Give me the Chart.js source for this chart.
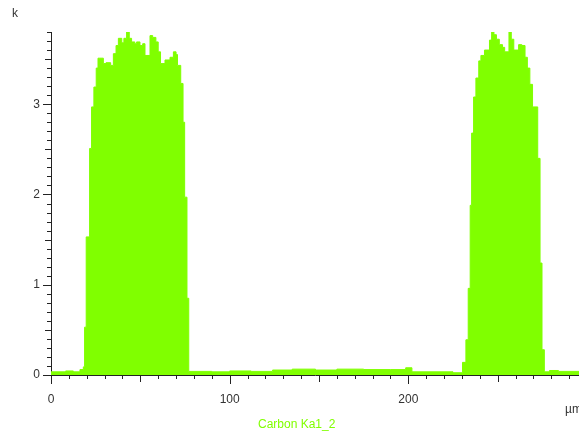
<!DOCTYPE html>
<html>
<head>
<meta charset="utf-8">
<script src="https://cdn.jsdelivr.net/npm/chart.js@4.4.1/dist/chart.umd.min.js"></script>
<style>
  html, body { margin: 0; padding: 0; background: #fff; }
  #wrap { position: relative; width: 579px; height: 437px; overflow: hidden; }
</style>
</head>
<body>
<div id="wrap"><canvas id="profile" width="579" height="437"></canvas></div>
<script>
// Line scan: Carbon Ka1_2 counts (k) vs distance (µm), one value per step start
const stepStart = [
  0, 8.2, 12.5, 16.2, 18.1, 18.8, 19.7, 21.6, 22.7, 24.0,
  25.3, 26.3, 27.4, 29.3, 30.8, 33.4, 34.9, 36.4, 37.7, 39.6,
  40.8, 42.3, 43.8, 45.1, 46.9, 47.9, 49.8, 51.3, 52.6, 55.4,
  56.9, 58.7, 60.0, 61.3, 63.8, 66.6, 68.5, 70.0, 70.8, 72.6,
  73.9, 74.8, 76.1, 77.1, 90, 100, 112, 124, 135, 148,
  160, 175, 190, 198.5, 202, 225, 230.3, 232.2, 233.5, 234.6,
  235.4, 236.5, 237.8, 239.4, 240.6, 242.6, 245.4, 246.6, 247.9, 249.3,
  250.9, 252.7, 253.9, 256.3, 257.6, 259.0, 261.7, 263.5, 265.3, 266.6,
  268.0, 269.5, 272.4, 273.7, 274.8, 276.1, 279, 284, 295.5
];
const counts = [
  0.035, 0.045, 0.035, 0.06, 0.09, 0.53, 1.53, 2.51, 2.97, 3.19,
  3.40, 3.51, 3.51, 3.45, 3.46, 3.43, 3.56, 3.65, 3.73, 3.68,
  3.73, 3.80, 3.73, 3.69, 3.67, 3.69, 3.65, 3.67, 3.54, 3.76,
  3.74, 3.69, 3.58, 3.45, 3.49, 3.52, 3.58, 3.55, 3.43, 3.23,
  2.80, 1.97, 0.85, 0.04, 0.035, 0.045, 0.04, 0.055, 0.065, 0.055,
  0.065, 0.06, 0.06, 0.08, 0.035, 0.025, 0.14, 0.39, 0.96, 1.88,
  2.68, 3.08, 3.29, 3.48, 3.54, 3.60, 3.71, 3.81, 3.77, 3.72,
  3.66, 3.63, 3.58, 3.80, 3.72, 3.60, 3.66, 3.65, 3.52, 3.40,
  3.22, 2.97, 2.40, 1.24, 0.28, 0.035, 0.05, 0.04, 0.04
];

const xTickLabels = [0, 100, 200];
const yTickLabels = [0, 1, 2, 3];

const GREEN = '#80ff00';
const AXIS = '#222';

Chart.defaults.font.family = "'Liberation Sans', Arial, sans-serif";
Chart.defaults.font.size = 12;
Chart.defaults.color = '#333';

// tick marks (minor / medium / major) and the loose labels
const tickMarks = {
  id: 'tickMarks',
  afterDraw(chart) {
    const { ctx, scales: { x, y } } = chart;
    ctx.save();
    ctx.strokeStyle = AXIS;
    ctx.lineWidth = 1;
    ctx.beginPath();
    for (let i = 0; i * 10 <= x.max; i++) {
      const px = Math.round(x.getPixelForValue(i * 10)) + 0.5;
      const len = i % 10 === 0 ? 9 : (i % 5 === 0 ? 7 : 4);
      ctx.moveTo(px, y.bottom);
      ctx.lineTo(px, y.bottom + len);
    }
    for (let i = 0; i / 10 <= y.max + 1e-9; i++) {
      const py = Math.round(y.getPixelForValue(i / 10)) + 0.5;
      const len = i % 10 === 0 ? 8 : (i % 5 === 0 ? 6 : 4);
      ctx.moveTo(x.left, py);
      ctx.lineTo(x.left - len, py);
    }
    ctx.stroke();

    ctx.font = "12px 'Liberation Sans', Arial, sans-serif";
    ctx.textBaseline = 'middle';
    ctx.textAlign = 'left';
    ctx.fillStyle = '#333';
    ctx.fillText('k', 12, 14);
    ctx.fillText('µm', 565, 410);
    ctx.fillStyle = GREEN;
    ctx.fillText('Carbon Ka1_2', 258, 425);
    ctx.restore();
  }
};

new Chart(document.getElementById('profile'), {
  type: 'line',
  data: {
    datasets: [{
      label: 'Carbon Ka1_2',
      data: stepStart.map((v, i) => ({ x: v, y: counts[i] })),
      stepped: true,
      fill: 'origin',
      backgroundColor: GREEN,
      borderColor: GREEN,
      borderWidth: 1,
      pointRadius: 0,
      pointHoverRadius: 0,
    }],
  },
  options: {
    responsive: false,
    animation: false,
    layout: { padding: { top: 32, right: 0, left: 0, bottom: 0 } },
    plugins: {
      legend: { display: false },
      tooltip: { enabled: false },
    },
    scales: {
      x: {
        type: 'linear',
        min: 0,
        max: 295.5,
        z: 1,
        afterFit: s => { s.height = 62; },
        afterBuildTicks: s => { s.ticks = xTickLabels.map(v => ({ value: v })); },
        grid: { drawOnChartArea: false, drawTicks: false },
        border: { display: true, color: AXIS, width: 1 },
        ticks: { padding: 17, maxRotation: 0, color: '#333' },
      },
      y: {
        min: 0,
        max: 3.8,
        z: 1,
        afterFit: s => { s.width = 51; },
        afterBuildTicks: s => { s.ticks = yTickLabels.map(v => ({ value: v })); },
        grid: { drawOnChartArea: false, drawTicks: false },
        border: { display: true, color: AXIS, width: 1 },
        ticks: { padding: 11, color: '#333' },
      },
    },
  },
  plugins: [tickMarks],
});
</script>
</body>
</html>
